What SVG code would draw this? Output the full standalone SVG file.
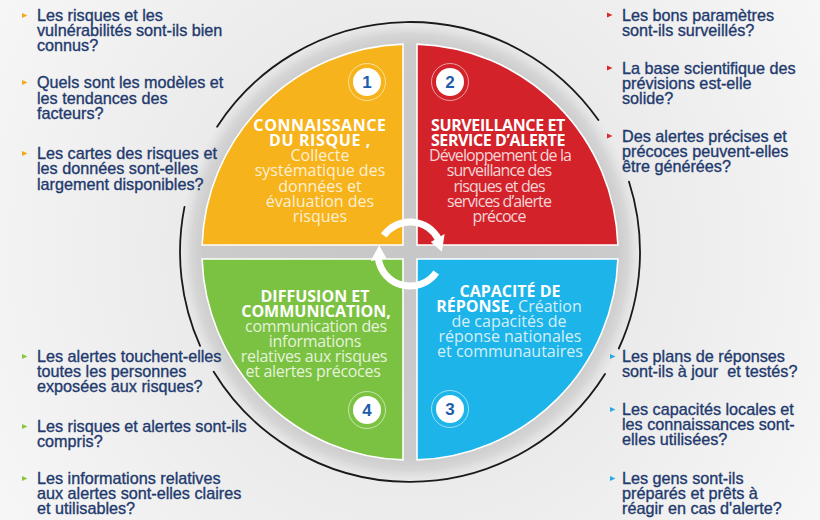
<svg xmlns="http://www.w3.org/2000/svg" width="820" height="520" viewBox="0 0 820 520">
  <defs>
    <radialGradient id="bg" cx="410" cy="252" r="520" gradientUnits="userSpaceOnUse">
      <stop offset="0" stop-color="#e2e2e2"/>
      <stop offset="0.5" stop-color="#ececec"/>
      <stop offset="1" stop-color="#f8f8f8"/>
    </radialGradient>
    <radialGradient id="halo" cx="410" cy="252" r="232" gradientUnits="userSpaceOnUse">
      <stop offset="0" stop-color="#c7c7c7"/>
      <stop offset="0.89" stop-color="#cbcbcb"/>
      <stop offset="0.94" stop-color="#d6d6d6"/>
      <stop offset="1" stop-color="#e3e3e3" stop-opacity="0"/>
    </radialGradient>
    <style>
      .q { stroke: #ffffff; stroke-width: 1.6; }
      .head { font-family: "Open Sans", "Liberation Sans", sans-serif; font-weight: 700; font-size: 16px; fill: #ffffff; text-anchor: middle; }
      .body { font-family: "Open Sans", "Liberation Sans", sans-serif; font-weight: 400; font-size: 16px; fill: #ffffff; fill-opacity: 0.82; text-anchor: middle; }
      .red .body { letter-spacing: -0.9px; }
      .red .head { letter-spacing: -0.4px; }
      .green .body { letter-spacing: -0.3px; }
      .yellow .head { letter-spacing: 0.6px; }
      .badge-ring { fill: none; stroke: #ffffff; stroke-opacity: 0.55; stroke-width: 1; }
      .badge { fill: #ffffff; }
      .num { font-family: "Liberation Sans", "Open Sans", sans-serif; font-weight: 700; font-size: 17px; fill: #1c5eab; text-anchor: middle; }
      .ask { font-family: "Liberation Sans", Arial, sans-serif; font-size: 16.2px; fill: #1f3a6e; stroke: #1f3a6e; stroke-width: 0.35px; }
      .ring { fill: none; stroke: #1a1a1a; stroke-width: 1.8; stroke-linecap: round; }
      .cycle { fill: none; stroke: #ffffff; stroke-width: 7; }
      .cycle-head { fill: #ffffff; }
    </style>
  </defs>

  <!-- backdrop -->
  <rect x="0" y="0" width="820" height="520" fill="url(#bg)"/>
  <circle cx="410" cy="252" r="232" fill="url(#halo)"/>

  <!-- outer broken ring -->
  <g id="ring">
    <path class="ring" d="M217.1 126.7 A230 230 0 0 1 598.4 120.1"/>
    <path class="ring" d="M629.0 181.7 A230 230 0 0 1 618.8 348.5"/>
    <path class="ring" d="M605.0 373.9 A230 230 0 0 1 213.7 371.8"/>
    <path class="ring" d="M200.1 345.9 A230 230 0 0 1 184.5 206.9"/>
  </g>

  <!-- quadrant 1 -->
  <g id="risk-knowledge" class="yellow">
    <path class="q" fill="#f7b31b" d="M403 245 L403 44.1 A208 208 0 0 0 202.1 245 Z"/>
    <circle class="badge-ring" cx="367" cy="82" r="18.5"/>
    <circle class="badge" cx="367" cy="82" r="14"/>
    <text class="num" x="367" y="88">1</text>
    <text class="head" x="320" y="131">CONNAISSANCE</text>
    <text class="head" x="320" y="146">DU RISQUE ,</text>
    <text class="body" x="320" y="161">Collecte</text>
    <text class="body" x="320" y="176">systématique des</text>
    <text class="body" x="320" y="191.5">données et</text>
    <text class="body" x="320" y="206.5">évaluation des</text>
    <text class="body" x="320" y="221.5">risques</text>
  </g>

  <!-- quadrant 2 -->
  <g id="monitoring" class="red">
    <path class="q" fill="#d3222a" d="M417 245 L417 44.1 A208 208 0 0 1 617.9 245 Z"/>
    <circle class="badge-ring" cx="450" cy="82" r="18.5"/>
    <circle class="badge" cx="450" cy="82" r="14"/>
    <text class="num" x="450" y="88">2</text>
    <text class="head" x="498" y="131">SURVEILLANCE ET</text>
    <text class="head" x="498" y="146">SERVICE D’ALERTE</text>
    <text class="body" x="500" y="161">Développement de la</text>
    <text class="body" x="499" y="176">surveillance des</text>
    <text class="body" x="499" y="191.5">risques et des</text>
    <text class="body" x="499" y="206.5">services d’alerte</text>
    <text class="body" x="499" y="221.5">précoce</text>
  </g>

  <!-- quadrant 3 -->
  <g id="response" class="blue">
    <path class="q" fill="#1db4e9" d="M417 259 L617.9 259 A208 208 0 0 1 417 459.9 Z"/>
    <circle class="badge-ring" cx="450" cy="409" r="18.5"/>
    <circle class="badge" cx="450" cy="409" r="14"/>
    <text class="num" x="450" y="415">3</text>
    <text class="head" x="510" y="297">CAPACITÉ DE</text>
    <text class="body" x="509" y="312"><tspan class="head" fill-opacity="1">RÉPONSE,</tspan> Création</text>
    <text class="body" x="509" y="327">de capacités de</text>
    <text class="body" x="510" y="342">réponse nationales</text>
    <text class="body" x="510" y="357">et communautaires</text>
  </g>

  <!-- quadrant 4 -->
  <g id="communication" class="green">
    <path class="q" fill="#7cc242" d="M403 259 L403 459.9 A208 208 0 0 1 202.1 259 Z"/>
    <circle class="badge-ring" cx="367" cy="410" r="18.5"/>
    <circle class="badge" cx="367" cy="410" r="14"/>
    <text class="num" x="367" y="416">4</text>
    <text class="head" x="315" y="302">DIFFUSION ET</text>
    <text class="head" x="316" y="316.5">COMMUNICATION,</text>
    <text class="body" x="316" y="332">communication des</text>
    <text class="body" x="315" y="347">informations</text>
    <text class="body" x="314" y="362">relatives aux risques</text>
    <text class="body" x="313" y="377">et alertes précoces</text>
  </g>

  <!-- central cycle arrows -->
  <g id="connectors">
    <path class="cycle" d="M383.8 235.6 A32 32 0 0 1 438.3 239.0"/>
    <polygon class="cycle-head" points="430.8,242 444.6,234 441.9,251.8"/>
    <path class="cycle" d="M436.2 272.4 A32 32 0 0 1 378.3 258.5"/>
    <polygon class="cycle-head" points="386.4,258.2 370.6,261.0 379.2,245.2"/>
  </g>

  <!-- questions: risk knowledge -->
  <g id="questions-knowledge">
    <polygon fill="#f4a81c" points="22,13 27.5,15.5 22,18"/>
    <text class="ask" x="37" y="21">Les risques et les</text>
    <text class="ask" x="37" y="36">vulnérabilités sont-ils bien</text>
    <text class="ask" x="37" y="51">connus?</text>
    <polygon fill="#f4a81c" points="22,80 27.5,82.5 22,85"/>
    <text class="ask" x="37" y="88">Quels sont les modèles et</text>
    <text class="ask" x="37" y="103.5">les tendances des</text>
    <text class="ask" x="37" y="119">facteurs?</text>
    <polygon fill="#f4a81c" points="22,151 27.5,153.5 22,156"/>
    <text class="ask" x="37" y="159">Les cartes des risques et</text>
    <text class="ask" x="37" y="174">les données sont-elles</text>
    <text class="ask" x="37" y="189.5">largement disponibles?</text>
  </g>

  <!-- questions: monitoring -->
  <g id="questions-monitoring">
    <polygon fill="#d62b2b" points="607,12.5 612.5,15 607,17.5"/>
    <text class="ask" x="622" y="21">Les bons paramètres</text>
    <text class="ask" x="622" y="36">sont-ils surveillés?</text>
    <polygon fill="#d62b2b" points="607,65.5 612.5,68 607,70.5"/>
    <text class="ask" x="622" y="74">La base scientifique des</text>
    <text class="ask" x="622" y="89">prévisions est-elle</text>
    <text class="ask" x="622" y="104">solide?</text>
    <polygon fill="#d62b2b" points="607,133.5 612.5,136 607,138.5"/>
    <text class="ask" x="622" y="142">Des alertes précises et</text>
    <text class="ask" x="622" y="157">précoces peuvent-elles</text>
    <text class="ask" x="622" y="172">être générées?</text>
  </g>

  <!-- questions: communication -->
  <g id="questions-communication">
    <polygon fill="#8cc63f" points="22,354 27.5,356.5 22,359"/>
    <text class="ask" x="37" y="362">Les alertes touchent-elles</text>
    <text class="ask" x="37" y="377">toutes les personnes</text>
    <text class="ask" x="37" y="392">exposées aux risques?</text>
    <polygon fill="#8cc63f" points="22,424 27.5,426.5 22,429"/>
    <text class="ask" x="37" y="432">Les risques et alertes sont-ils</text>
    <text class="ask" x="37" y="447">compris?</text>
    <polygon fill="#8cc63f" points="22,476 27.5,478.5 22,481"/>
    <text class="ask" x="37" y="484">Les informations relatives</text>
    <text class="ask" x="37" y="499">aux alertes sont-elles claires</text>
    <text class="ask" x="37" y="514">et utilisables?</text>
  </g>

  <!-- questions: response -->
  <g id="questions-response">
    <polygon fill="#29abe2" points="610,354 615.5,356.5 610,359"/>
    <text class="ask" x="622" y="362">Les plans de réponses</text>
    <text class="ask" x="622" y="377">sont-ils à jour&#160; et testés?</text>
    <polygon fill="#29abe2" points="610,407 615.5,409.5 610,412"/>
    <text class="ask" x="622" y="415">Les capacités locales et</text>
    <text class="ask" x="622" y="430">les connaissances sont-</text>
    <text class="ask" x="622" y="445">elles utilisées?</text>
    <polygon fill="#29abe2" points="610,476 615.5,478.5 610,481"/>
    <text class="ask" x="622" y="484">Les gens sont-ils</text>
    <text class="ask" x="622" y="499">préparés et prêts à</text>
    <text class="ask" x="622" y="514">réagir en cas d'alerte?</text>
  </g>
</svg>
